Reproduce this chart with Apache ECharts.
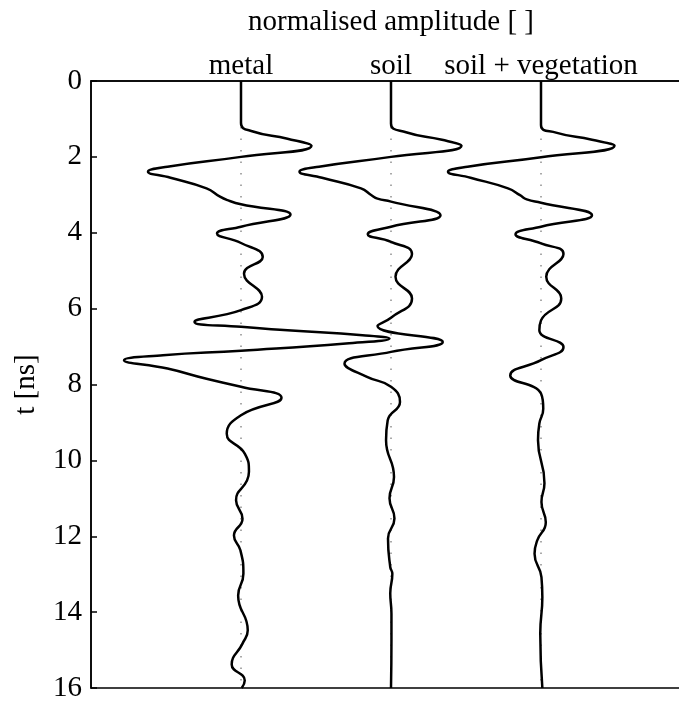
<!DOCTYPE html>
<html>
<head>
<meta charset="utf-8">
<script src="https://cdn.jsdelivr.net/npm/echarts@6/dist/echarts.min.js"></script>
<style>
  html, body { margin: 0; padding: 0; background: #fff; overflow: hidden; }
</style>
</head>
<body>
<div id="myChart" style="width:679px;height:704px;"></div>
<script>
// trace names and their offsets on the amplitude axis
var traceNames = ["metal", "soil", "soil + vegetation"];
var traceOffsets = [1, 2, 3];
var timeTicks = [0, 2, 4, 6, 8, 10, 12, 14, 16];

// metal: time [ns] and normalised amplitude
var tMetal = [0, 1.11, 1.33, 1.52, 1.71, 2.0, 2.26, 2.39, 2.55, 2.83, 3.05, 3.14, 3.25, 3.52, 3.84, 4.02, 4.27, 4.64, 5.08, 5.69, 6.04, 6.35, 6.48, 6.57, 6.70, 6.79, 6.92, 7.11, 7.23, 7.36, 7.58, 7.85, 8.06, 8.35, 8.81, 9.3, 9.82, 10.3, 10.53, 11.05, 11.54, 11.98, 12.37, 12.99, 13.56, 14.48, 14.83, 15.38, 15.8, 16];
var aMetal = [0, 0, 0.08, 0.31, 0.47, 0, -0.49, -0.62, -0.47, -0.23, -0.14, -0.09, 0, 0.33, 0, -0.16, 0, 0.145, 0.02, 0.14, 0, -0.31, 0, 0.31, 0.81, 0.99, 0.70, 0, -0.52, -0.78, -0.49, -0.23, 0, 0.27, 0, -0.095, 0.025, 0.053, 0.04, -0.033, 0.01, -0.047, -0.004, 0.016, -0.019, 0.045, 0.01, -0.062, 0.025, 0.005];

// soil
var tSoil = [0, 1.12, 1.35, 1.55, 1.71, 2.0, 2.26, 2.39, 2.55, 2.83, 3.01, 3.1, 3.18, 3.54, 3.84, 4.04, 4.24, 4.56, 5.16, 5.73, 6.24, 6.46, 6.88, 7.14, 7.45, 7.8, 8.06, 8.46, 8.94, 9.47, 10.44, 11.0, 11.53, 12.06, 12.81, 12.99, 13.5, 14.04, 14.75, 16];
var aSoil = [0, 0, 0.1, 0.34, 0.47, 0, -0.48, -0.61, -0.46, -0.2, -0.13, -0.09, 0, 0.33, 0, -0.155, 0, 0.14, 0.03, 0.14, 0, -0.09, 0.345, 0, -0.31, -0.16, 0, 0.06, -0.022, -0.033, 0.02, -0.01, 0.023, -0.02, -0.005, 0.009, -0.005, 0.003, 0.003, 0];

// soil + vegetation
var tVeg = [0, 1.16, 1.36, 1.55, 1.71, 2.01, 2.26, 2.39, 2.55, 2.83, 3.01, 3.12, 3.21, 3.54, 3.84, 4.04, 4.28, 4.56, 5.16, 5.73, 6.31, 6.57, 7.01, 7.36, 7.76, 8.24, 8.64, 9.03, 9.47, 10.6, 11.1, 11.63, 12.11, 12.46, 13.08, 13.61, 14.56, 16];
var aVeg = [0, 0, 0.1, 0.34, 0.49, 0, -0.49, -0.62, -0.47, -0.22, -0.14, -0.095, 0, 0.34, 0, -0.17, 0, 0.15, 0.035, 0.135, 0, -0.011, 0.15, 0, -0.205, 0, 0.015, -0.011, -0.02, 0.023, 0.003, 0.032, -0.025, -0.043, 0.003, 0.009, -0.005, 0.009];

var serif = "Liberation Serif";

function buildTrace(offset, times, amps) {
    var pts = [];
    for (var i = 0; i < times.length; i++) {
        pts.push([offset + amps[i], times[i]]);
    }
    return pts;
}

var traces = [
    buildTrace(traceOffsets[0], tMetal, aMetal),
    buildTrace(traceOffsets[1], tSoil, aSoil),
    buildTrace(traceOffsets[2], tVeg, aVeg)
];

var series = [];
// dotted zero lines behind the traces
for (var k = 0; k < traceOffsets.length; k++) {
    series.push({
        type: "line",
        data: [[traceOffsets[k], timeTicks[0]], [traceOffsets[k], timeTicks[timeTicks.length - 1]]],
        symbol: "none",
        silent: true,
        z: 1,
        lineStyle: { color: "#555", width: 1, type: [1.5, 10] }
    });
}
for (var j = 0; j < traces.length; j++) {
    series.push({
        name: traceNames[j],
        type: "line",
        data: traces[j],
        symbol: "none",
        smooth: 0.5,
        z: 3,
        lineStyle: { color: "#000", width: 2.5 }
    });
}

var chart = echarts.init(document.getElementById("myChart"), null, { renderer: "canvas" });
chart.setOption({
    animation: false,
    backgroundColor: "#fff",
    grid: {
        left: 91,
        top: 81,
        width: 600,
        height: 607,
        outerBoundsMode: "none",
        show: true,
        borderColor: "#000",
        borderWidth: 1.5,
        backgroundColor: "transparent"
    },
    xAxis: {
        type: "value",
        position: "top",
        min: 0,
        max: 4,
        interval: 1,
        name: "normalised amplitude [ ]",
        nameLocation: "middle",
        nameGap: 44,
        nameTextStyle: { fontFamily: serif, fontSize: 29, color: "#000" },
        axisLine: { show: true, lineStyle: { color: "#000", width: 1.5 } },
        axisTick: { show: false },
        splitLine: { show: false },
        axisLabel: {
            fontFamily: serif,
            fontSize: 29,
            color: "#000",
            margin: 0,
            formatter: function (v) {
                var idx = traceOffsets.indexOf(v);
                return idx >= 0 ? traceNames[idx] : "";
            }
        }
    },
    yAxis: {
        type: "value",
        inverse: true,
        min: 0,
        max: 16,
        interval: 2,
        name: "t [ns]",
        nameLocation: "middle",
        nameRotate: 90,
        nameGap: 50,
        nameTextStyle: { fontFamily: serif, fontSize: 29, color: "#000" },
        axisLine: { show: true, lineStyle: { color: "#000", width: 1.5 } },
        axisTick: { show: true, inside: true, length: 6, lineStyle: { color: "#000", width: 1.5 } },
        splitLine: { show: false },
        axisLabel: { fontFamily: serif, fontSize: 29, color: "#000", margin: 9 }
    },
    series: series
});
</script>
</body>
</html>
